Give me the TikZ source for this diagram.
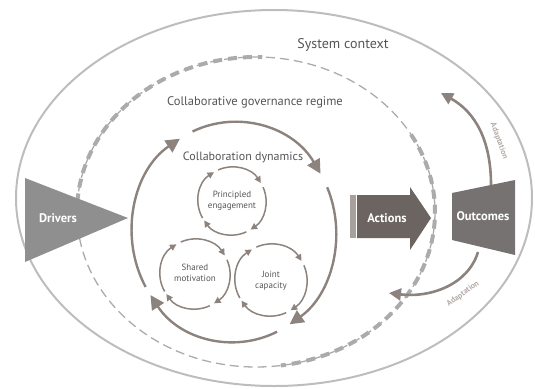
\documentclass[tikz,border=0pt]{standalone}
\usepackage{fontspec}
\setmainfont{PT Sans}
\usetikzlibrary{arrows.meta}
\definecolor{ringgray}{HTML}{BDBDBD}
\definecolor{dashgray}{HTML}{ABABAB}
\definecolor{taupe}{HTML}{8C827E}
\definecolor{drivergray}{HTML}{8F8F8F}
\definecolor{actiongray}{HTML}{6C6460}
\definecolor{actionlight}{HTML}{A8A09C}
\definecolor{outgray}{HTML}{767272}
\definecolor{txtgray}{HTML}{555555}
\definecolor{adaptgray}{HTML}{B5ADA9}
\tikzset{
  bigcyc/.style={draw=taupe, line width=2.4pt, -{Triangle[length=14pt,width=14pt]}},
  smallcyc/.style={draw=taupe, line width=1.5pt, -{Triangle[length=6.5pt,width=6.5pt]}},
  adaptarc/.style={draw=taupe, line width=2.6pt, -{Triangle[length=12pt,width=12pt]}},
  thindash/.style={draw=dashgray, line width=1.3pt, dash pattern=on 9pt off 5pt},
  thickdash/.style={draw=dashgray, line width=4pt, dash pattern=on 9pt off 6pt},
  ctxtext/.style={text=txtgray, font=\fontsize{14}{16}\selectfont},
  regtext/.style={text=txtgray, font=\fontsize{12.5}{14}\selectfont},
  dyntext/.style={text=txtgray, font=\fontsize{12}{14}\selectfont},
  smalltext/.style={text=txtgray, align=center, font=\fontsize{9}{11}\selectfont},
  boxtext/.style={text=white, font=\bfseries\fontsize{12.5}{14}\selectfont},
  adapttext/.style={text=adaptgray, font=\bfseries\fontsize{8}{9}\selectfont}
}
\newcommand\cyclering[5]{%
  \foreach \a/\b in {150/238,246/328,336/417,425/505}{%
    \draw[#5] (#1,#2) ++(\a:#3 and #4) arc[start angle=\a, end angle=\b, x radius=#3, y radius=#4];
  }}
\begin{document}
\begin{tikzpicture}[x=1pt,y=-1pt]
\useasboundingbox (0,0) rectangle (535,388);
% outer system context
\draw[ringgray, line width=2pt] (274,198) ellipse [x radius=258, y radius=188];
\node[ctxtext] (ctx) at (343,45) {System context};
% governance regime dashed ellipse
\coordinate (regc) at (256,212);
\draw[thindash] (regc) ellipse [x radius=179, y radius=155];
\draw[thickdash] (regc) ++(178:179 and 155) arc[start angle=178, end angle=272, x radius=179, y radius=155];
\draw[thickdash] (regc) ++(-30:179 and 155) arc[start angle=-30, end angle=82, x radius=179, y radius=155];
\node[regtext] (reg) at (255,102) {Collaborative governance regime};
% collaboration dynamics
\cyclering{234}{232}{102}{110}{bigcyc}
\node[dyntext] (dyn) at (243,157) {Collaboration dynamics};
\cyclering{232}{201}{34}{34}{smallcyc}
\cyclering{195}{274}{35}{35}{smallcyc}
\cyclering{271}{280}{36}{36}{smallcyc}
\node[smalltext] (pe) at (232,201) {Principled\\engagement};
\node[smalltext] (sm) at (195,273) {Shared\\motivation};
\node[smalltext] (jc) at (271,281) {Joint\\capacity};
% drivers
\fill[drivergray] (25,178) -- (128,218) -- (25,262) -- cycle;
\node[boxtext] (drv) at (58,218) {Drivers};
% actions
\fill[actionlight] (350,195) rectangle (356,238);
\fill[actiongray] (357,195) -- (410,195) -- (410,187) -- (431,218) -- (410,250) -- (410,238) -- (357,238) -- cycle;
\node[boxtext] (act) at (387,218) {Actions};
% adaptation loops
\coordinate (upend) at (441,93);
\coordinate (lowend) at (389,293);
\draw[adaptarc] (491,185) .. controls (491,140) and (475,112) .. (upend);
\draw[adaptarc] (478,252) .. controls (468,285) and (430,298) .. (lowend);
\node[adapttext, rotate=-70] (ad1) at (499,141) {Adaptation};
\node[adapttext, rotate=36] (ad2) at (463,294) {Adaptation};
% outcomes
\fill[outgray] (452,193) -- (515,180) -- (515,255) -- (452,240) -- cycle;
\node[boxtext] (out) at (483,216) {Outcomes};
\end{tikzpicture}
\end{document}
